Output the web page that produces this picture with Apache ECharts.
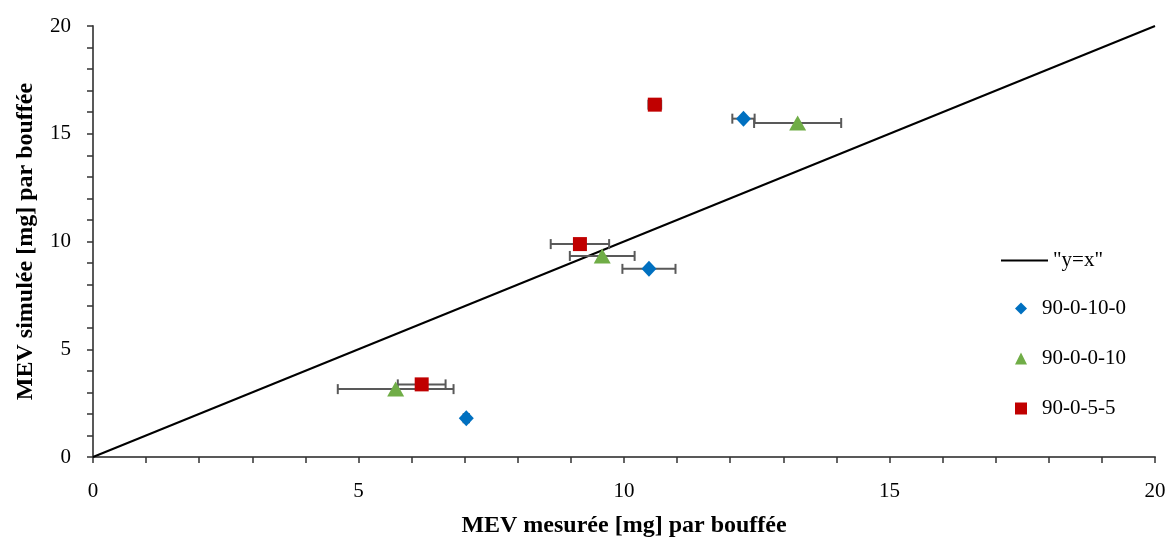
<!DOCTYPE html>
<html><head><meta charset="utf-8">
<script src="https://cdn.jsdelivr.net/npm/echarts@6/dist/echarts.min.js"></script>
<style>html,body{margin:0;padding:0;background:#fff}#c{width:1169px;height:543px}</style>
</head><body><div id="c"></div>
<script>
const seriesNames = ['"y=x"', '90-0-10-0', '90-0-0-10', '90-0-5-5'];
const lineXY = [[0, 0], [20, 20]];
const blueX = [7.03, 10.47, 12.25];
const blueY = [1.80, 8.73, 15.70];
const blueErr = [0.05, 0.50, 0.21];
const greenX = [5.70, 9.59, 13.27];
const greenY = [3.15, 9.33, 15.50];
const greenErr = [1.09, 0.61, 0.82];
const redX = [6.19, 9.17, 10.58];
const redY = [3.37, 9.88, 16.35];
const redErr = [0.45, 0.55, 0.12];
const xTitle = 'MEV mesurée [mg] par bouffée';
const yTitle = 'MEV simulée [mg] par bouffée';

const FONT = 'Liberation Serif';
const zip = (xs, ys) => xs.map((x, i) => [x, ys[i]]);
const errData = [];
[[blueX, blueY, blueErr], [greenX, greenY, greenErr], [redX, redY, redErr]].forEach(([xs, ys, es]) => {
  xs.forEach((x, i) => errData.push([x - es[i], x + es[i], ys[i]]));
});

const chart = echarts.init(document.getElementById('c'));
chart.setOption({
  animation: false,
  grid: { left: 93, right: 14, top: 26, bottom: 82 },
  xAxis: {
    type: 'value', min: 0, max: 20, interval: 5,
    name: xTitle, nameLocation: 'middle', nameGap: 57,
    nameTextStyle: { fontFamily: FONT, fontSize: 24, fontWeight: 'bold', color: '#000' },
    axisLine: { onZero: false, lineStyle: { color: '#595959', width: 2 } },
    axisTick: { inside: false, length: 6, lineStyle: { color: '#333', width: 1.5 } },
    minorTick: { show: true, splitNumber: 5, length: 6, lineStyle: { color: '#333', width: 1.5 } },
    axisLabel: { fontFamily: FONT, fontSize: 21, color: '#000', margin: 24 },
    splitLine: { show: false }
  },
  yAxis: {
    type: 'value', min: 0, max: 20, interval: 5,
    name: yTitle, nameLocation: 'middle', nameGap: 55,
    nameTextStyle: { fontFamily: FONT, fontSize: 24, fontWeight: 'bold', color: '#000' },
    axisLine: { show: true, onZero: false, lineStyle: { color: '#595959', width: 2 } },
    axisTick: { show: true, length: 6, lineStyle: { color: '#333', width: 1.5 } },
    minorTick: { show: true, splitNumber: 5, length: 6, lineStyle: { color: '#333', width: 1.5 } },
    axisLabel: { fontFamily: FONT, fontSize: 21, color: '#000', margin: 22 },
    splitLine: { show: false }
  },
  legend: [
    {
      data: [seriesNames[0]], left: 996, top: 245, orient: 'vertical',
      itemWidth: 47, itemHeight: 14, icon: 'path://M0,6 L47,6 L47,8 L0,8 Z',
      textStyle: { fontFamily: FONT, fontSize: 21, color: '#000', padding: [0, 0, 0, 0] }
    },
    {
      data: [
        { name: seriesNames[1], icon: 'diamond' },
        { name: seriesNames[2], icon: 'triangle' },
        { name: seriesNames[3], icon: 'rect' }
      ],
      left: 1010, top: 293, orient: 'vertical', itemGap: 29,
      itemWidth: 12, itemHeight: 12,
      textStyle: { fontFamily: FONT, fontSize: 21, color: '#000', lineHeight: 21, padding: [0, 0, 0, 10] }
    }
  ],
  series: [
    {
      name: seriesNames[0], type: 'line', data: lineXY, symbol: 'none', z: 1,
      lineStyle: { color: '#000', width: 2 }, itemStyle: { color: '#000' }
    },
    {
      name: 'err', type: 'custom', z: 2, data: errData,
      renderItem: function (params, api) {
        const y = api.value(2);
        const a = api.coord([api.value(0), y]);
        const b = api.coord([api.value(1), y]);
        const h = 5;
        const style = { stroke: '#595959', lineWidth: 2, fill: null };
        return {
          type: 'group', children: [
            { type: 'line', shape: { x1: a[0], y1: a[1], x2: b[0], y2: b[1] }, style },
            { type: 'line', shape: { x1: a[0], y1: a[1] - h, x2: a[0], y2: a[1] + h }, style },
            { type: 'line', shape: { x1: b[0], y1: b[1] - h, x2: b[0], y2: b[1] + h }, style }
          ]
        };
      }
    },
    {
      name: seriesNames[1], type: 'scatter', z: 3, data: zip(blueX, blueY),
      symbol: 'diamond', symbolSize: [15, 16], itemStyle: { color: '#0070C0', opacity: 1 }
    },
    {
      name: seriesNames[2], type: 'scatter', z: 3, data: zip(greenX, greenY),
      symbol: 'triangle', symbolSize: [17, 15], itemStyle: { color: '#70AD47', opacity: 1 }
    },
    {
      name: seriesNames[3], type: 'scatter', z: 3, data: zip(redX, redY),
      symbol: 'rect', symbolSize: [14, 14], itemStyle: { color: '#C00000', opacity: 1 }
    }
  ]
});
</script></body></html>
